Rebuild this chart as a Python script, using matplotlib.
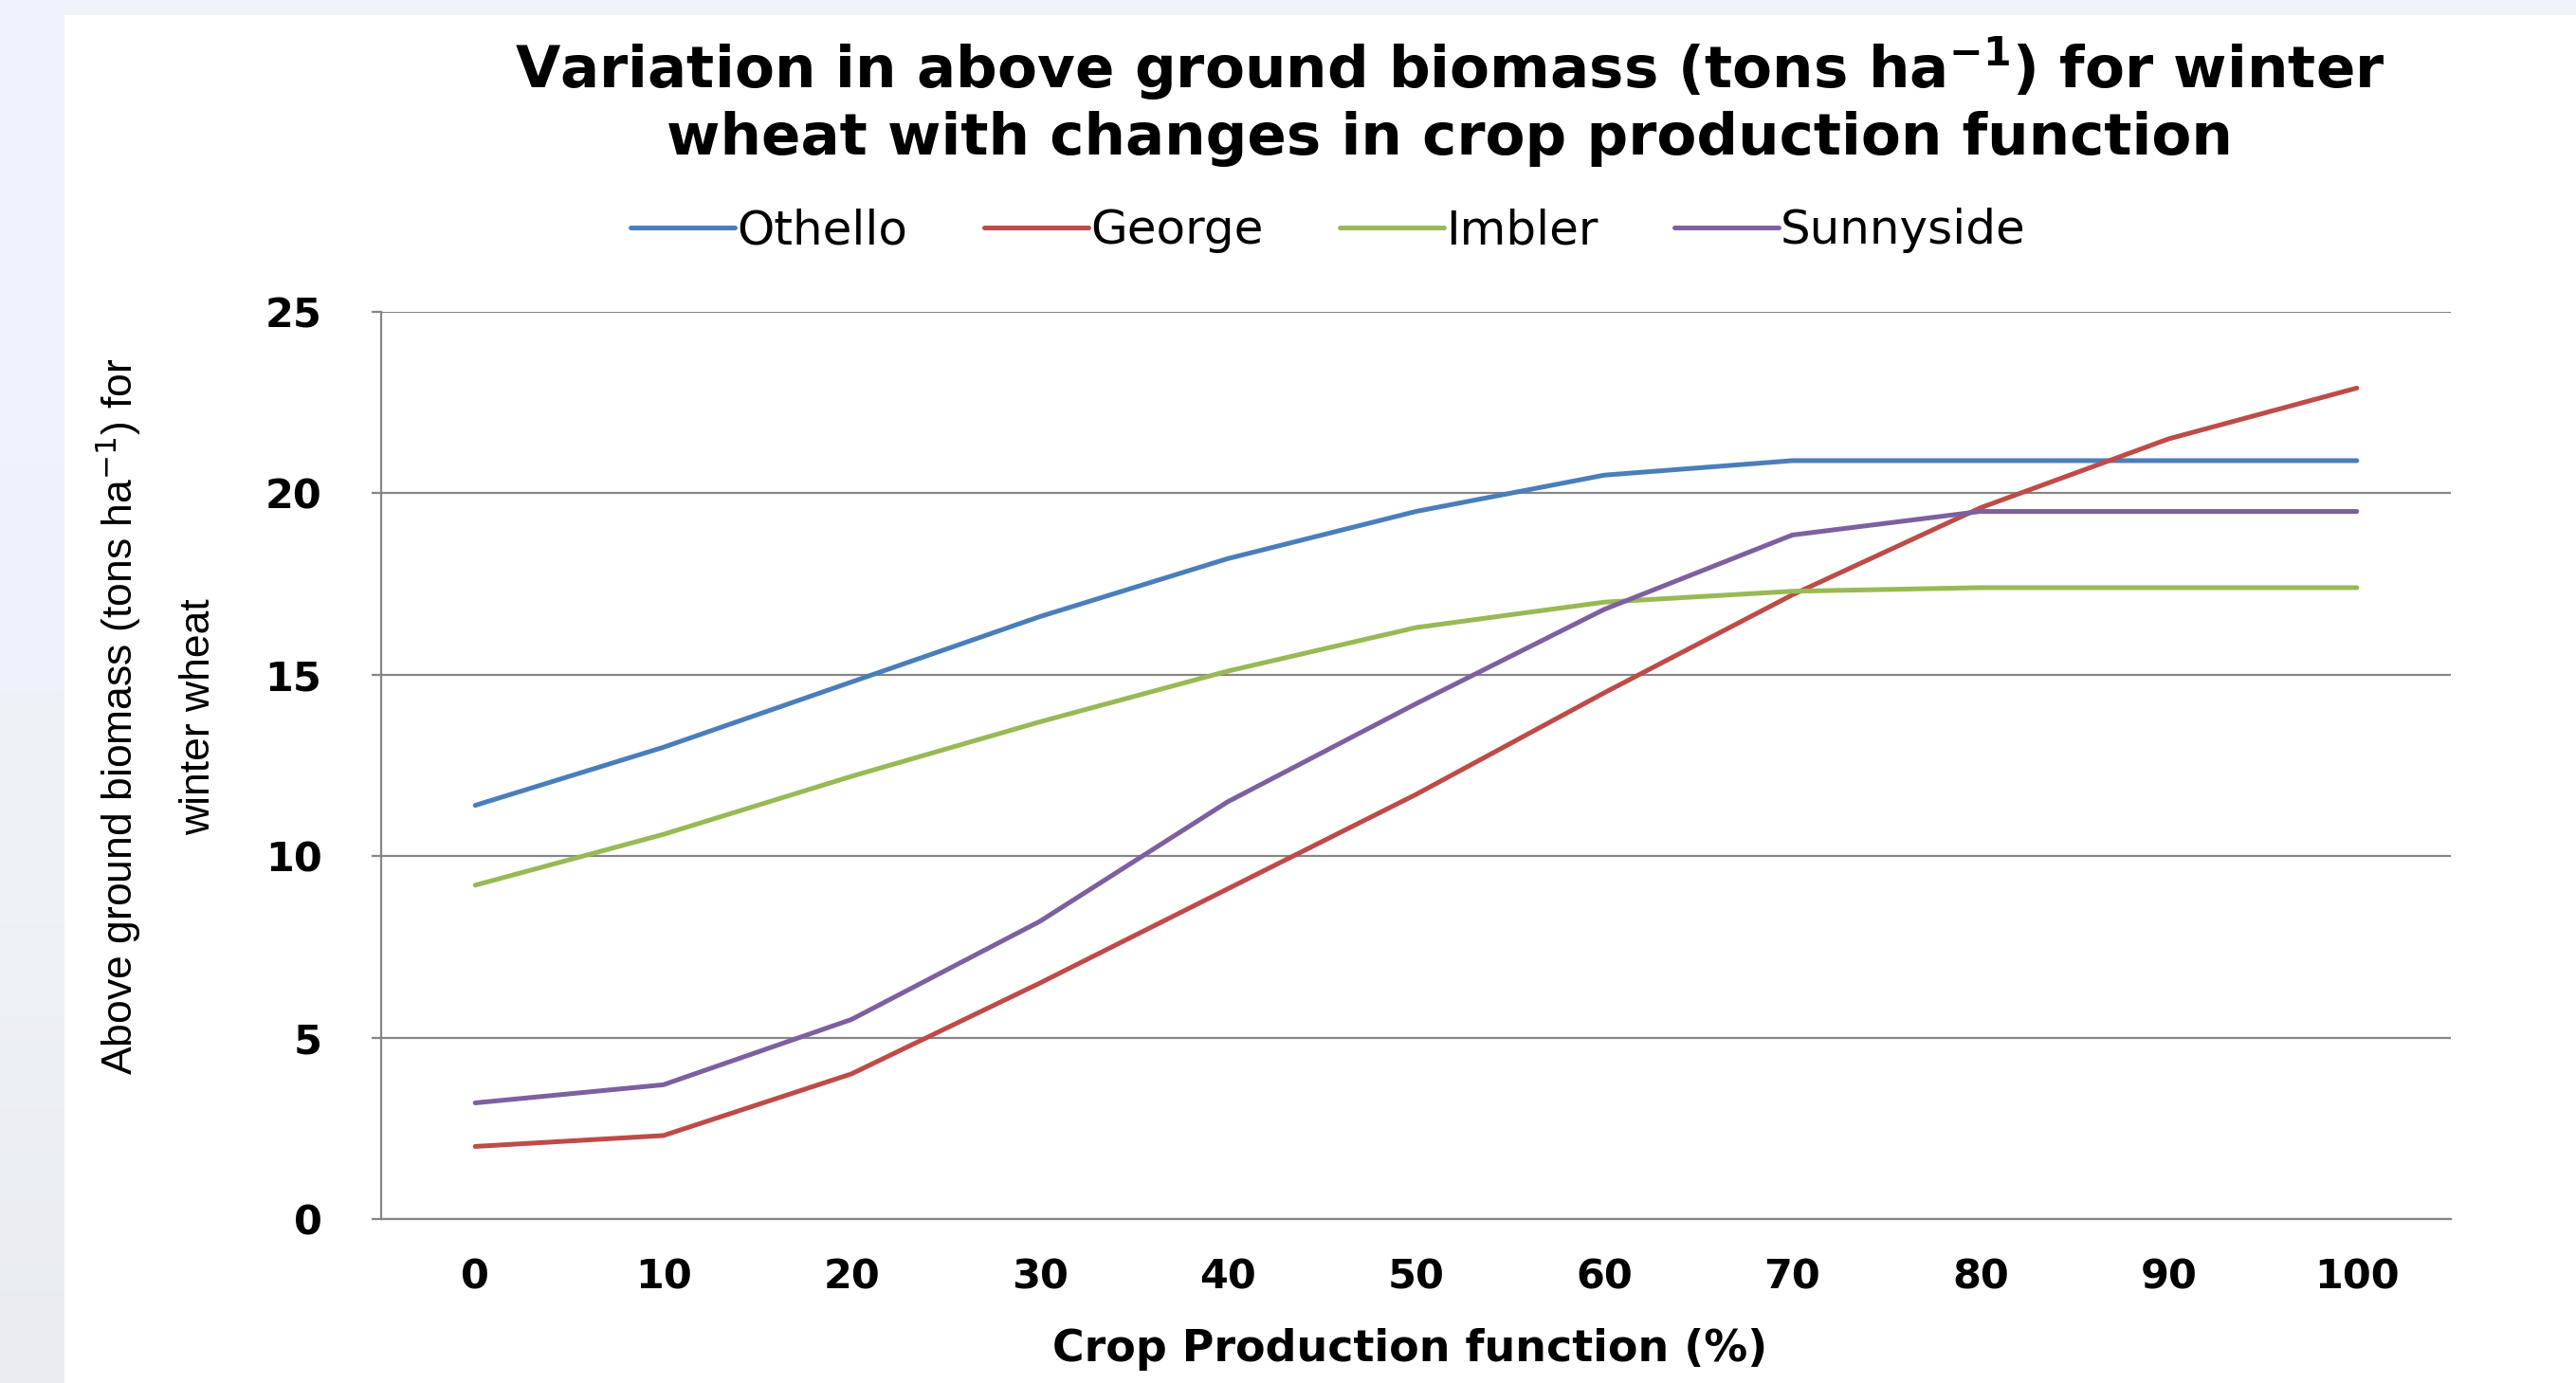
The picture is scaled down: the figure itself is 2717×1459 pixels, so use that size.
#!/usr/bin/env python3
"""Winter wheat above ground biomass vs crop production function, four sites."""

import matplotlib

matplotlib.use("Agg")

import matplotlib.pyplot as plt  # noqa: E402
import numpy as np  # noqa: E402

crop_pct = [0, 10, 20, 30, 40, 50, 60, 70, 80, 90, 100]
othello = [11.4, 13.0, 14.8, 16.6, 18.2, 19.5, 20.5, 20.9, 20.9, 20.9, 20.9]
george = [2.0, 2.3, 4.0, 6.5, 9.1, 11.7, 14.5, 17.2, 19.6, 21.5, 22.9]
imbler = [9.2, 10.6, 12.2, 13.7, 15.1, 16.3, 17.0, 17.3, 17.4, 17.4, 17.4]
sunnyside = [3.2, 3.7, 5.5, 8.2, 11.5, 14.2, 16.8, 18.85, 19.5, 19.5, 19.5]

series = [
    ("Othello", othello, "#4A7EBB"),
    ("George", george, "#BE4B48"),
    ("Imbler", imbler, "#98B954"),
    ("Sunnyside", sunnyside, "#7D60A0"),
]
y_ticks = [0, 5, 10, 15, 20, 25]

W, H = 2717, 1459
fig = plt.figure(figsize=(W / 100, H / 100), dpi=100)
fig.patch.set_facecolor("white")

# slide background showing at the left and top edges
strip = fig.add_axes([0, 0, 68 / W, 1])
grad = np.linspace(0, 1, 256).reshape(-1, 1)
bg_cmap = matplotlib.colors.LinearSegmentedColormap.from_list(
    "bg", ["#E9EDF1", "#EDF2F7", "#EEF4F9", "#EEF4F9"])
strip.imshow(grad, aspect="auto", cmap=bg_cmap, origin="lower", extent=(0, 1, 0, 1))
strip.axis("off")
top = fig.add_axes([0, 1 - 16 / H, 1, 16 / H])
top.set_facecolor("#EEF4F9")
top.set_xticks([])
top.set_yticks([])
for s in top.spines.values():
    s.set_visible(False)

left, right, ytop, ybot = 402, 2585, 329, 1286
ax = fig.add_axes([left / W, 1 - ybot / H, (right - left) / W, (ybot - ytop) / H])

for name, vals, color in series:
    ax.plot(crop_pct, vals, color=color, lw=3.6, label=name, solid_capstyle="round")

ax.set_xlim(-5, 105)
ax.set_ylim(0, 25)
ax.set_xticks(crop_pct)
ax.set_xticklabels([str(v) for v in crop_pct])
ax.set_yticks(y_ticks)
ax.yaxis.grid(True, color="#868686", lw=1.6)
ax.set_axisbelow(True)
for side in ("top", "right"):
    ax.spines[side].set_visible(False)
for side in ("left", "bottom"):
    ax.spines[side].set_color("#868686")
    ax.spines[side].set_linewidth(1.6)

ax.tick_params(axis="y", length=7, width=1.6, color="#868686", pad=38, labelsize=31)
ax.tick_params(axis="x", length=0, pad=29, labelsize=31)
for lab in ax.get_xticklabels() + ax.get_yticklabels():
    lab.set_fontweight("bold")

ax.set_xlabel("Crop Production function (%)", fontsize=33, fontweight="bold", va="center")
ax.xaxis.set_label_coords(0.497, -0.144)

ax.set_ylabel("Above ground biomass (tons ha$^{-1}$) for\nwinter wheat",
              fontsize=32, family=["Liberation Sans Narrow", "Liberation Sans"],
              linespacing=2.2, va="center", ha="center")
ax.yaxis.set_label_coords(-0.109, 0.554)

fig.text(1529 / W, 1 - 106 / H,
         "Variation in above ground biomass (tons ha$^{\\mathbf{-1}}$) for winter\n"
         "wheat with changes in crop production function",
         ha="center", va="center", fontsize=44, fontweight="bold", linespacing=1.2)

fig.legend(loc="center", bbox_to_anchor=(1401 / W, 1 - 243 / H), ncol=4, frameon=False,
           fontsize=36, handlelength=2.2, handletextpad=0.05, columnspacing=1.6)

fig.savefig("out.png", dpi=100, facecolor=fig.get_facecolor())
